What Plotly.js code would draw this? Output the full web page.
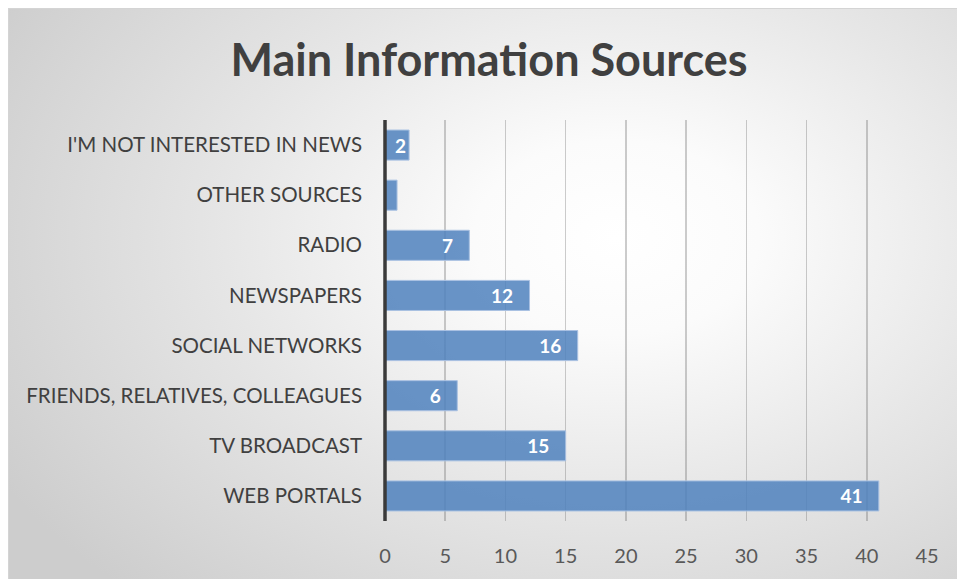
<!DOCTYPE html>
<html>
<head>
<meta charset="utf-8">
<script src="https://cdn.plot.ly/plotly-3.0.1.min.js"></script>
<style>
  html, body { margin: 0; padding: 0; background: #ffffff; width: 957px; height: 579px; overflow: hidden; }
  #frame {
    position: absolute; left: 8px; top: 8px; width: 949px; height: 571px;
    border-top: 1px solid #d4d4d4; border-left: 1px solid #d4d4d4;
    background: radial-gradient(ellipse 75% 85% at 64% 40%, #ffffff 0%, #fbfbfb 20%, #e6e6e6 55%, #cdcdcd 100%);
  }
  #chart { position: absolute; left: 0; top: 0; width: 957px; height: 579px; }
</style>
</head>
<body>
<div id="frame"></div>
<div id="chart"></div>
<script>
// Data (bottom to top order as plotted)
const categories = [
  "WEB PORTALS",
  "TV BROADCAST",
  "FRIENDS, RELATIVES, COLLEAGUES",
  "SOCIAL NETWORKS",
  "NEWSPAPERS",
  "RADIO",
  "OTHER SOURCES",
  "I'M NOT INTERESTED IN NEWS"
];
const values = [41, 15, 6, 16, 12, 7, 1, 2];
const dataLabels = ["41", "15", "6", "16", "12", "7", "", "2"];
const xTickValues = [0, 5, 10, 15, 20, 25, 30, 35, 40, 45];

const pad = "\u2007\u2009";
const textLabels = dataLabels.map(t => (t && t.length && t !== "2") ? t + pad : t);

const trace = {
  type: "bar",
  orientation: "h",
  y: categories,
  x: values,
  text: textLabels,
  textposition: "inside",
  insidetextanchor: "end",
  constraintext: "none",
  textfont: { family: "Lato, 'Open Sans', sans-serif", size: 19, color: "#ffffff", weight: "bold" },
  marker: {
    color: "rgba(79,129,189,0.85)",
    line: { color: "#a9c1e2", width: 1 }
  },
  hoverinfo: "skip"
};

const layout = {
  width: 957,
  height: 579,
  margin: { l: 385, r: 30, t: 120, b: 58, pad: 0 },
  paper_bgcolor: "rgba(0,0,0,0)",
  plot_bgcolor: "rgba(0,0,0,0)",
  showlegend: false,
  bargap: 0.4,
  font: { family: "Lato, 'Open Sans', sans-serif", color: "#404040" },
  title: {
    text: "<b>Main Information Sources</b>",
    font: { family: "Lato, 'Open Sans', sans-serif", size: 45, color: "#404040" },
    x: 0.511, xanchor: "center", xref: "container",
    y: 1 - 60 / 579, yanchor: "middle", yref: "container"
  },
  xaxis: {
    range: [0, 45],
    tickmode: "array",
    tickvals: xTickValues,
    ticktext: xTickValues.map(String),
    showgrid: true,
    gridcolor: "rgba(110,110,110,0.35)",
    gridwidth: 1.5,
    zeroline: false,
    showline: false,
    ticks: "",
    ticklabelstandoff: 21,
    tickfont: { family: "Lato, 'Open Sans', sans-serif", size: 20, color: "#595959" },
    fixedrange: true
  },
  yaxis: {
    type: "category",
    categoryorder: "array",
    categoryarray: categories,
    showgrid: false,
    zeroline: false,
    showline: false,
    ticks: "",
    ticklabelstandoff: 22,
    tickfont: { family: "Lato, 'Open Sans', sans-serif", size: 20.5, color: "#404040" },
    fixedrange: true
  },
  shapes: [
    {
      type: "line", xref: "paper", yref: "paper",
      x0: 0, x1: 0, y0: 0, y1: 1,
      line: { color: "#3a3a3a", width: 3.5 },
      layer: "above"
    }
  ]
};

Plotly.newPlot("chart", [trace], layout, { staticPlot: true, displayModeBar: false });
</script>
</body>
</html>
